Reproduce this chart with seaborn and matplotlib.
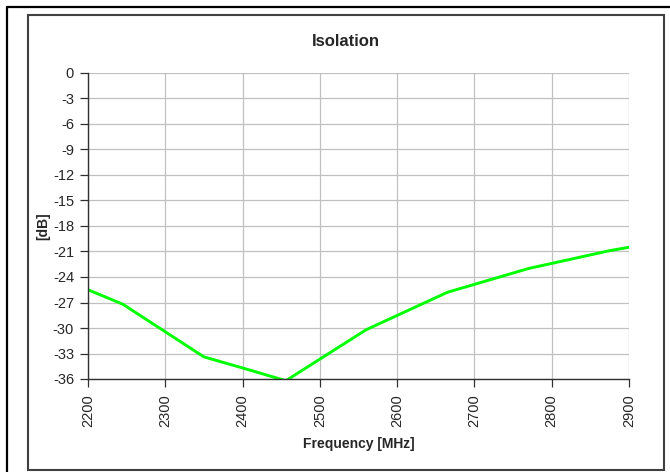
import numpy as np
import pandas as pd
import seaborn as sns
import matplotlib.pyplot as plt
from matplotlib.lines import Line2D
from matplotlib.patches import Rectangle

# data
freq = [2200, 2245, 2350, 2400, 2456, 2560, 2665, 2770, 2875, 2900]
isolation = [-25.5, -27.2, -33.4, -34.7, -36.2, -30.2, -25.8, -23.0, -20.9, -20.5]
x_ticks = [2200, 2300, 2400, 2500, 2600, 2700, 2800, 2900]
y_ticks = list(range(0, -37, -3))

df = pd.DataFrame({"Frequency [MHz]": freq, "[dB]": isolation})

sns.set_style("white")
plt.rcParams['font.family'] = ['Liberation Sans', 'DejaVu Sans']

W, H = 670, 472
fig = plt.figure(figsize=(W / 100, H / 100), dpi=100)
ax = fig.add_axes([88 / W, 1 - 379 / H, (629 - 88) / W, (379 - 73) / H])

sns.lineplot(data=df, x="Frequency [MHz]", y="[dB]", ax=ax,
             color="#00ff00", linewidth=2.1, sort=False)

ax.set_xlim(2200, 2900)
ax.set_ylim(-36, 0)
ax.set_xticks(x_ticks)
ax.set_yticks(y_ticks)
ax.set_xticklabels([str(t) for t in x_ticks], rotation=90, fontsize=10.5)
ax.set_yticklabels([str(t) for t in y_ticks], fontsize=10.5)
ax.grid(True, color="#c0c0c0", linewidth=0.9)
ax.set_axisbelow(True)

for s in ["top", "right"]:
    ax.spines[s].set_visible(False)
for s in ["left", "bottom"]:
    ax.spines[s].set_color("#303030")
    ax.spines[s].set_linewidth(1.0)
ax.tick_params(axis="both", direction="out", length=6, width=0.9,
               color="#303030", left=True, bottom=True)
ax.tick_params(axis="y", pad=4)
ax.tick_params(axis="x", pad=5)

ax.set_xlabel("Frequency [MHz]", fontsize=10, fontweight="bold", labelpad=7)
ax.set_ylabel("[dB]", fontsize=10, fontweight="bold", labelpad=2)

fig.text(345.5 / W, 1 - 42 / H, "Isolation", ha="center", va="center",
         fontsize=12, fontweight="bold")

# chart area frame
fig.add_artist(Rectangle((27.5 / W, 1 - 469.5 / H), (663.5 - 27.5) / W,
                         (469.5 - 15) / H, transform=fig.transFigure,
                         fill=False, edgecolor="#404040", linewidth=1.5))
# outer black frame (left and top only)
fig.add_artist(Line2D([6.5 / W, 6.5 / W], [0, 1 - 7 / H], transform=fig.transFigure,
                      color="black", linewidth=1.6))
fig.add_artist(Line2D([6.5 / W, 1], [1 - 7 / H, 1 - 7 / H], transform=fig.transFigure,
                      color="black", linewidth=1.6))

fig.savefig("out.png", dpi=100)
